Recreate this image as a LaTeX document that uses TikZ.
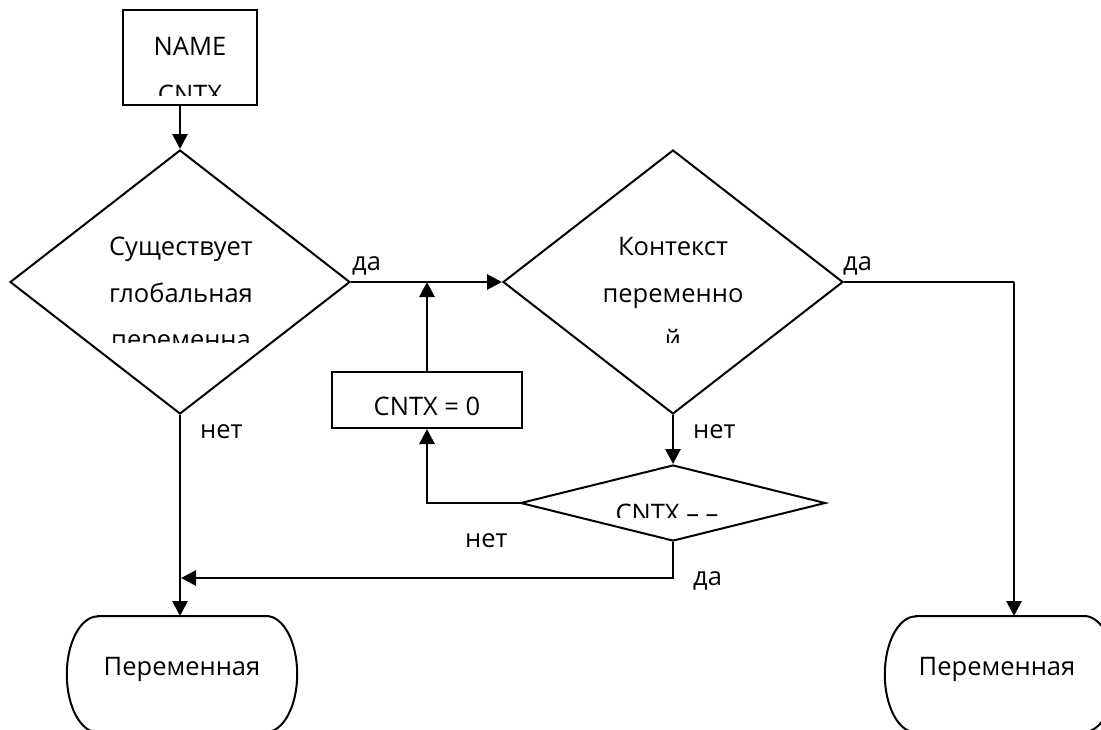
\documentclass[tikz,border=0pt]{standalone}
\usepackage{fontspec}
\setmainfont{Open Sans}
\usetikzlibrary{shapes.geometric,arrows.meta}
\tikzstyle{box}=[rectangle,draw=black,line width=2pt,inner sep=0pt]
\tikzstyle{dec}=[diamond,draw=black,line width=2pt,inner sep=0pt]
\tikzstyle{term}=[rectangle,inner sep=0pt,minimum width=230pt,minimum height=116pt]
\tikzstyle{shp}=[line width=2pt]
\tikzstyle{txt}=[inner sep=0pt,anchor=base,font=\fontsize{25.5}{30}\selectfont]
\tikzstyle{arr}=[line width=2.8pt,-{Triangle[length=15pt,width=15pt]}]
\tikzstyle{ln}=[line width=2.8pt]

\begin{document}
\begin{tikzpicture}[x=1pt,y=-1pt]
        \clip (0,0) rectangle (1101,729);
        \fill[white] (0,0) rectangle (1101,729);
        % shapes
        \node [style=box, minimum width=134pt, minimum height=95pt] (inp) at (190, 57.5) {};
        \node [style=dec, minimum width=340pt, minimum height=264pt] (glob) at (180, 282) {};
        \node [style=dec, minimum width=340pt, minimum height=264pt] (ctx) at (673, 282) {};
        \node [style=box, minimum width=190pt, minimum height=56pt] (zero) at (427, 400) {};
        \node [style=dec, minimum width=305pt, minimum height=76pt] (cnt) at (673, 503) {};
        \node [style=term, anchor=north] (term1) at (182, 616) {};
        \node [style=term, anchor=north] (term2) at (1000, 616) {};
        \draw [style=shp] ([xshift=31pt]term1.north west) -- ([xshift=-31pt]term1.north east)
          arc [start angle=-90, end angle=90, x radius=31, y radius=58]
          -- ([xshift=31pt]term1.south west)
          arc [start angle=90, end angle=270, x radius=31, y radius=58] -- cycle;
        \draw [style=shp] ([xshift=31pt]term2.north west) -- ([xshift=-31pt]term2.north east)
          arc [start angle=-90, end angle=90, x radius=31, y radius=58]
          -- ([xshift=31pt]term2.south west)
          arc [start angle=90, end angle=270, x radius=31, y radius=58] -- cycle;
        % texts
        \node [style=txt] (inp1) at (190, 55) {NAME};
        \begin{scope}
          \clip (123, 60) rectangle (257, 95);
          \node [style=txt] (inp2) at (190, 103) {CNTX};
        \end{scope}
        \node [style=txt] (glob1) at (181, 255) {Существует};
        \node [style=txt] (glob2) at (181, 302) {глобальная};
        \begin{scope}
          \clip (60, 310) rectangle (300, 342);
          \node [style=txt] (glob3) at (181, 348) {переменна};
        \end{scope}
        \node [style=txt] (ctx1) at (673, 255) {Контекст};
        \node [style=txt] (ctx2) at (673, 302) {переменно};
        \begin{scope}
          \clip (553, 310) rectangle (793, 342);
          \node [style=txt] (ctx3) at (673, 348) {й};
        \end{scope}
        \node [style=txt] (zero1) at (427, 415) {CNTX = 0};
        \begin{scope}
          \clip (560, 480) rectangle (790, 517);
          \node [style=txt] (cnt1) at (667, 522) {CNTX – –};
        \end{scope}
        \node [style=txt] (term1a) at (182, 675) {Переменная};
        \node [style=txt] (term2a) at (997, 675) {Переменная};
        % labels
        \node [style=txt, anchor=base west] (yes1) at (352, 270) {да};
        \node [style=txt, anchor=base west] (yes2) at (843, 270) {да};
        \node [style=txt, anchor=base west] (no1) at (200, 438) {нет};
        \node [style=txt, anchor=base west] (no2) at (693, 438) {нет};
        \node [style=txt, anchor=base west] (no3) at (465, 547) {нет};
        \node [style=txt, anchor=base west] (yes3) at (693, 585) {да};
        % connectors
        \coordinate (join) at (427, 282);
        \coordinate (merge) at (181, 578);
        \coordinate (d2) at (1014, 282);
        \coordinate (d2b) at (1014, 616);
        \draw [style=arr] (glob.north |- inp.south) to (glob.north);
        \draw [style=arr] (glob.east) to (ctx.west);
        \draw [style=arr] (glob.south) to (glob.south |- term1.north);
        \draw [style=arr] (ctx.south) to (cnt.north);
        \draw [style=arr] (cnt.west) -| (zero.south);
        \draw [style=arr] (zero.north) to (join);
        \draw [style=arr] (cnt.south) |- (merge);
        \draw [style=ln] (ctx.east) to (d2);
        \draw [style=arr] (d2) to (d2b);
    \end{tikzpicture}
\end{document}
